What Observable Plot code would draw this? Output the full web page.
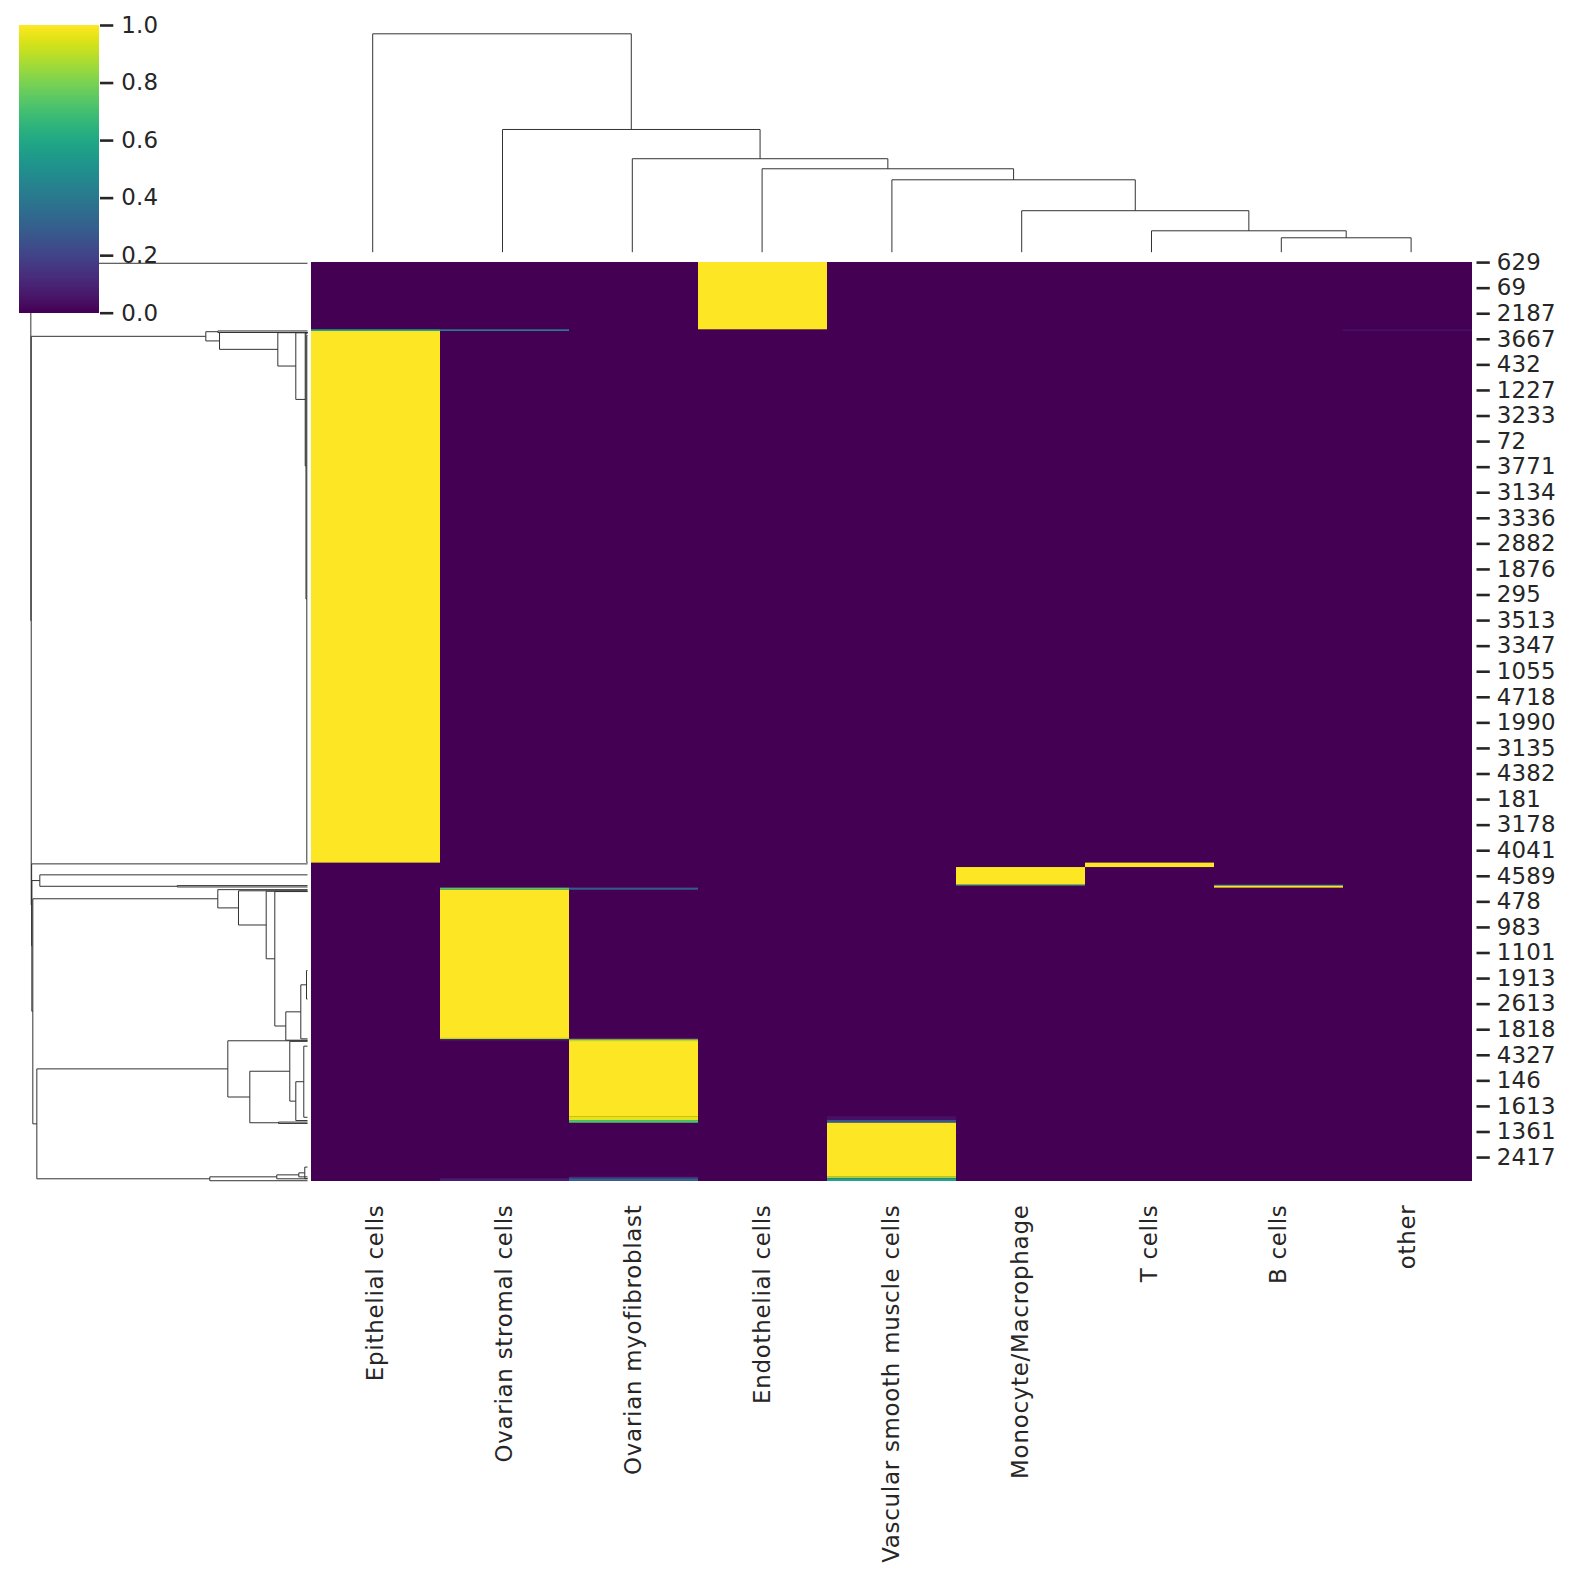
<!DOCTYPE html>
<html>
<head>
<meta charset="utf-8">
<script src="https://cdn.jsdelivr.net/npm/d3@7"></script>
<script src="https://cdn.jsdelivr.net/npm/@observablehq/plot@0.6"></script>
<style>
  html, body { margin: 0; padding: 0; background: #fff; }
  #chart { position: relative; width: 1574px; height: 1580px; background: #fff; }
  #chart svg { position: absolute; left: 0; top: 0; overflow: visible; }
  .col-labels text { letter-spacing: 0.75px; }
  .row-labels text { letter-spacing: 0.2px; }
</style>
</head>
<body>
<div id="chart"></div>
<script>
// ---- data -------------------------------------------------------------
// Cell-type columns, in dendrogram order
const cellTypes = [
  "Epithelial cells", "Ovarian stromal cells", "Ovarian myofibroblast",
  "Endothelial cells", "Vascular smooth muscle cells", "Monocyte/Macrophage",
  "T cells", "B cells", "other"
];

// Number of cells (rows) and the labelled rows (every 133rd row, in clustered order)
const nRows = 4780;
const rowLabelStep = 133;
const rowLabels = [
  "629", "69", "2187", "3667", "432", "1227", "3233", "72", "3771", "3134",
  "3336", "2882", "1876", "295", "3513", "3347", "1055", "4718", "1990", "3135",
  "4382", "181", "3178", "4041", "4589", "478", "983", "1101", "1913", "2613",
  "1818", "4327", "146", "1613", "1361", "2417"
];

// Runs of consecutive rows sharing the same profile (row index boundaries)
const blockBounds = [0, 350, 359, 3124, 3147, 3239, 3244, 3254, 3265, 4036,
                     4043, 4052, 4443, 4463, 4477, 4758, 4766, 4780];
// Per-run scores for each cell type (same order as cellTypes)
const blockValues = [
  [0,    0,    0,    1, 0,    0,   0, 0,   0   ],
  [0.6,  0.4,  0,    0, 0,    0,   0, 0,   0.04],
  [1,    0,    0,    0, 0,    0,   0, 0,   0   ],
  [0,    0,    0,    0, 0,    0,   1, 0,   0   ],
  [0,    0,    0,    0, 0,    1,   0, 0,   0   ],
  [0,    0,    0,    0, 0,    0.5, 0, 0.5, 0   ],
  [0,    0,    0,    0, 0,    0,   0, 1,   0   ],
  [0,    0.72, 0.28, 0, 0,    0,   0, 0,   0   ],
  [0,    1,    0,    0, 0,    0,   0, 0,   0   ],
  [0,    0.88, 0.1,  0, 0,    0,   0, 0,   0   ],
  [0,    0.04, 0.88, 0, 0,    0,   0, 0,   0   ],
  [0,    0,    1,    0, 0,    0,   0, 0,   0   ],
  [0,    0,    0.96, 0, 0.04, 0,   0, 0,   0   ],
  [0,    0,    0.72, 0, 0.28, 0,   0, 0,   0   ],
  [0,    0,    0,    0, 1,    0,   0, 0,   0   ],
  [0,    0,    0.12, 0, 0.85, 0,   0, 0,   0   ],
  [0,    0.08, 0.3,  0, 0.58, 0,   0, 0,   0   ]
];

// Column linkage: [childA, childB, distance]; leaves are 0..8, merges numbered from 9
const colLinkage = [
  [7, 8, 0.066], [6, 9, 0.098], [5, 10, 0.190], [4, 11, 0.3315],
  [3, 12, 0.382], [2, 13, 0.428], [1, 14, 0.562], [0, 15, 1.0]
];

// Row dendrogram: leaf groups (row index where each group sits) and linkage
const rowLeaves = [
  4,                                    // 0  endothelial
  356, 364,                             // 1-2 mixed epithelial/stromal rows
  380, 3121, 366, 366, 365, 365, 364,   // 3-9 epithelial
  3128,                                 // 10 T cells
  3185, 3241, 3248,                     // 11-13 monocyte, B cells
  3262, 3268, 3270, 3272, 3683, 3831, 4038, 4045,   // 14-21 stromal
  4048, 4051, 4076, 4446, 4463, 4471, 4478,         // 22-28 myofibroblast
  4705, 4765, 4756, 4766, 4776                      // 29-33 smooth muscle
];
const rowLinkage = [
  [1, 2, 0.3242],   // 34 mixed rows
  [3, 4, 0.0025],   // 35
  [5, 35, 0.0055],  // 36
  [6, 36, 0.0083],  // 37
  [7, 37, 0.0423],  // 38
  [8, 38, 0.1073],  // 39
  [9, 39, 0.3180],  // 40
  [34, 40, 0.3675], // 41 epithelial
  [12, 13, 0.4709], // 42
  [11, 42, 0.9675], // 43 monocyte + B
  [18, 19, 0.0036], // 44
  [44, 20, 0.0242], // 45
  [45, 21, 0.0784], // 46
  [17, 46, 0.1182], // 47
  [16, 47, 0.1493], // 48
  [15, 48, 0.2494], // 49
  [14, 49, 0.3242], // 50 stromal
  [24, 25, 0.0134], // 51
  [51, 26, 0.0423], // 52
  [23, 52, 0.0640], // 53
  [27, 28, 0.1048], // 54
  [53, 54, 0.2085], // 55
  [22, 55, 0.2880], // 56 myofibroblast
  [29, 30, 0.0098], // 57
  [57, 31, 0.0314], // 58
  [58, 32, 0.1110], // 59
  [59, 33, 0.3531], // 60 smooth muscle
  [56, 60, 0.9783], // 61
  [50, 61, 0.9928], // 62
  [43, 62, 0.9964], // 63
  [10, 63, 0.9971], // 64
  [41, 64, 0.9986], // 65
  [0, 65, 1.0]      // 66 root
];

// ---- helpers ----------------------------------------------------------
// Turn a linkage table into the U-shaped segments of a dendrogram
function dendrogramSegments(leafPos, linkage) {
  const pos = leafPos.slice();
  const hgt = leafPos.map(() => 0);
  const segs = [];
  for (const [a, b, h] of linkage) {
    segs.push({p1: pos[a], h1: hgt[a], p2: pos[a], h2: h});
    segs.push({p1: pos[a], h1: h,      p2: pos[b], h2: h});
    segs.push({p1: pos[b], h1: h,      p2: pos[b], h2: hgt[b]});
    pos.push((pos[a] + pos[b]) / 2);
    hgt.push(h);
  }
  return segs;
}

const W = 1574, H = 1580;
const font = "DejaVu Sans, sans-serif";
const fontSize = 22.9;
const ink = "#262626";
const treeInk = "#333333";
const viridis = {type: "linear", scheme: "viridis", domain: [0, 1]};
const baseStyle = {background: "transparent", fontFamily: font, fontSize: fontSize + "px", overflow: "visible"};

// ---- heatmap ----------------------------------------------------------
const cells = [];
blockValues.forEach((vals, bi) => {
  vals.forEach((v, ci) => {
    if (v > 0) cells.push({type: cellTypes[ci], y1: blockBounds[bi], y2: blockBounds[bi + 1], v});
  });
});
const columnBase = cellTypes.map(t => ({type: t, y1: 0, y2: nRows, v: 0}));

const rowTicks = rowLabels.map((_, i) => i * rowLabelStep + 0.5);
const rowTickText = new Map(rowTicks.map((t, i) => [t, rowLabels[i]]));

const heat = Plot.plot({
  width: W, height: H,
  marginLeft: 307.3, marginRight: W - 1475.5, marginTop: 262, marginBottom: H - 1181,
  style: baseStyle,
  x: {type: "band", domain: cellTypes, padding: 0, label: null},
  y: {domain: [0, nRows], reverse: true, label: null},
  color: viridis,
  marks: [
    Plot.barY(columnBase, {x: "type", y1: "y1", y2: "y2", fill: "v", inset: 0}),
    Plot.barY(cells, {x: "type", y1: "y1", y2: "y2", fill: "v", inset: 0}),
    Plot.axisY(rowTicks, {
      anchor: "right", tickSize: 13.3, tickPadding: 7.5, strokeWidth: 2.6,
      tickFormat: d => rowTickText.get(d), color: ink, fontSize, label: null,
      className: "row-labels"
    }),
    Plot.axisX({
      anchor: "bottom", tickSize: 0, tickPadding: 23, tickRotate: -90,
      color: ink, fontSize, label: null, className: "col-labels"
    })
  ]
});

// ---- column dendrogram ------------------------------------------------
const colSegs = dendrogramSegments(cellTypes.map((_, i) => i + 0.5), colLinkage);
const colTree = Plot.plot({
  width: W, height: H,
  marginLeft: 307.3, marginRight: W - 1475.5, marginTop: 22.4, marginBottom: H - 251.7,
  style: baseStyle,
  x: {domain: [0, cellTypes.length], axis: null},
  y: {domain: [0, 1.05], axis: null},
  marks: [
    Plot.link(colSegs, {x1: "p1", y1: "h1", x2: "p2", y2: "h2", stroke: treeInk, strokeWidth: 1})
  ]
});

// ---- row dendrogram ---------------------------------------------------
const rowSegs = dendrogramSegments(rowLeaves, rowLinkage);
const rowTree = Plot.plot({
  width: W, height: H,
  marginLeft: 16.5, marginRight: W - 307, marginTop: 262, marginBottom: H - 1181,
  style: baseStyle,
  x: {domain: [1.05, 0], axis: null},
  y: {domain: [0, nRows], reverse: true, axis: null},
  marks: [
    Plot.link(rowSegs, {x1: "h1", y1: "p1", x2: "h2", y2: "p2", stroke: treeInk, strokeWidth: 1})
  ]
});

// ---- colour bar -------------------------------------------------------
const steps = d3.range(256);
const colorbar = Plot.plot({
  width: W, height: H,
  marginLeft: 19, marginRight: W - 99, marginTop: 25, marginBottom: H - 312.7,
  style: baseStyle,
  x: {domain: [0, 1], axis: null},
  y: {domain: [0, 1], label: null},
  color: viridis,
  marks: [
    Plot.rect(steps, {
      x1: 0, x2: 1,
      y1: i => i / steps.length, y2: i => (i + 1.02) / steps.length,
      fill: i => (i + 0.5) / steps.length, shapeRendering: "crispEdges"
    }),
    Plot.axisY([0, 0.2, 0.4, 0.6, 0.8, 1.0], {
      anchor: "right", tickSize: 13.3, tickPadding: 8.5, strokeWidth: 2.6,
      tickFormat: d3.format(".1f"), color: ink, fontSize, label: null,
      className: "row-labels"
    })
  ]
});

const chart = document.getElementById("chart");
for (const svg of [heat, colTree, rowTree, colorbar]) chart.appendChild(svg);
</script>
</body>
</html>
